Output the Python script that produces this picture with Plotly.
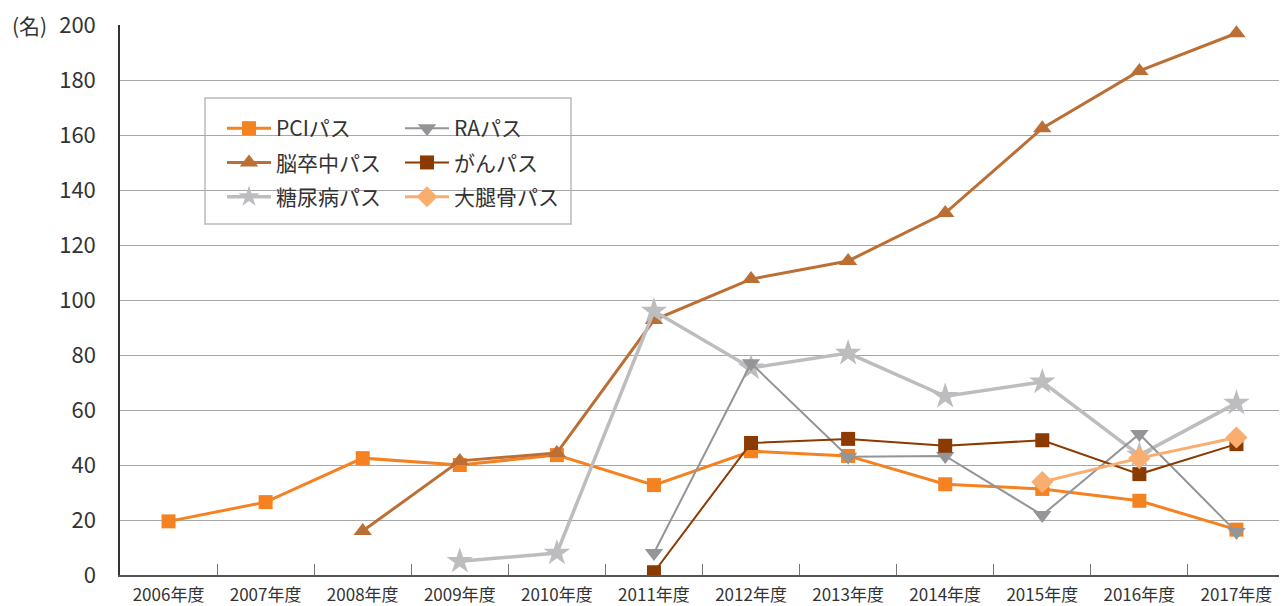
import plotly.graph_objects as go

categories = ["2006年度", "2007年度", "2008年度", "2009年度", "2010年度", "2011年度",
              "2012年度", "2013年度", "2014年度", "2015年度", "2016年度", "2017年度"]

pci = [19.5, 26.5, 42.5, 40, 43.6, 32.7, 45, 43.3, 33, 31.3, 27, 16.5]
stroke = [None, None, 16, 41.5, 44.4, 92.7, 107.6, 114.2, 131.6, 162.5, 183.3, 197]
diabetes = [None, None, None, 5, 8, 96, 75.3, 80.7, 65, 70.2, 43.6, 62.5]
ra = [None, None, None, None, None, 8, 77, 43, 43.3, 21.8, 51.3, 15.6]
cancer = [None, None, None, None, None, 1, 48, 49.5, 47, 49, 36.7, 47.6]
femur = [None, None, None, None, None, None, None, None, None, 33.8, 42.5, 50]

yticks = [0, 20, 40, 60, 80, 100, 120, 140, 160, 180, 200]

FONT = "Noto Sans CJK JP"

series = [
    # name, values, color, width, symbol, size, legend
    ("PCIパス", pci, "#F58220", 3, "square", 14, "legend"),
    ("脳卒中パス", stroke, "#BC6F35", 3, "triangle-up", 16, "legend"),
    ("糖尿病パス", diabetes, "#BDBDC0", 3.5, "star", 20, "legend"),
    ("RAパス", ra, "#939598", 2, "triangle-down", 16, "legend2"),
    ("がんパス", cancer, "#8B3A00", 2, "square", 14, "legend2"),
    ("大腿骨パス", femur, "#F9AE6F", 3, "diamond", 17, "legend2"),
]

fig = go.Figure()
for i, (name, vals, color, w, sym, sz, lg) in enumerate(series):
    fig.add_trace(go.Scatter(
        x=categories, y=vals, name=name, mode="lines+markers",
        line=dict(color=color, width=w),
        marker=dict(symbol=sym, size=sz, color=color, line=dict(width=0)),
        connectgaps=False, legend=lg, legendgroup=f"g{i}",
    ))

legend_common = dict(
    font=dict(family=FONT, size=21, color="#333333"),
    bgcolor="rgba(0,0,0,0)", borderwidth=0,
    tracegroupgap=4, orientation="v",
    xanchor="left", yanchor="top", itemwidth=44,
)

# page has an 8px body margin: figure is drawn 8px smaller
fig.update_layout(
    width=1279, height=598,
    margin=dict(l=112, r=2, t=17, b=31, autoexpand=False),
    paper_bgcolor="white", plot_bgcolor="white",
    font=dict(family=FONT, color="#333333"),
    showlegend=True,
    legend=dict(x=(222 - 120) / 1165, y=1 - (108 - 25) / 550, **legend_common),
    legend2=dict(x=(400 - 120) / 1165, y=1 - (108 - 25) / 550, **legend_common),
    xaxis=dict(
        type="category", range=[-0.5, 11.5], automargin=False,
        showline=True, linecolor="#555555", linewidth=1.5,
        ticks="inside", tickson="boundaries", ticklen=11, tickcolor="#777777",
        showgrid=False, ticklabelstandoff=4, ticklabeloverflow="allow",
        tickfont=dict(family=FONT, size=17, color="#333333"),
    ),
    yaxis=dict(
        range=[0, 200], tickvals=yticks, automargin=False,
        showline=True, linecolor="#333333", linewidth=1.5,
        showgrid=True, gridcolor="#A8A8A8", gridwidth=1,
        ticks="", zeroline=False, ticklabelstandoff=18, ticklabeloverflow="allow",
        tickfont=dict(family=FONT, size=22, color="#333333"),
    ),
    shapes=[dict(type="rect", xref="paper", yref="paper",
                 x0=(205 - 120) / 1165, x1=(571 - 120) / 1165,
                 y0=1 - (224 - 25) / 550, y1=1 - (98 - 25) / 550,
                 line=dict(color="#BBBBBB", width=1.5), fillcolor="white", layer="below")],
    annotations=[dict(text="(名)", xref="paper", yref="y", x=0, y=200,
                      xanchor="right", yanchor="middle", showarrow=False, xshift=-71,
                      font=dict(family=FONT, size=21, color="#333333"))],
)

fig.write_html("out.html")
